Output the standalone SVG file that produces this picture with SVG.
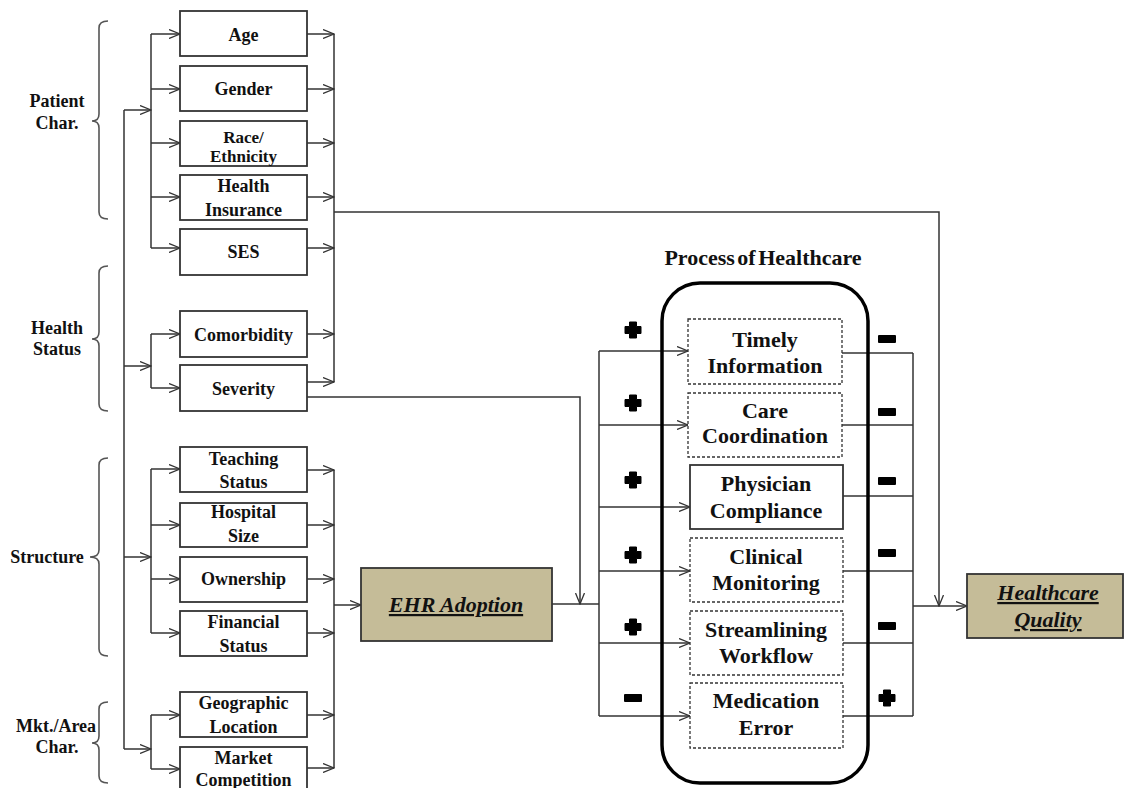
<svg xmlns="http://www.w3.org/2000/svg" width="1126" height="788" viewBox="0 0 1126 788">
<style>
.box{fill:#fff;stroke:#333;stroke-width:1.8}
.dbox{fill:#fff;stroke:#333;stroke-width:1.3;stroke-dasharray:3 2}
.tan{fill:#c5bc98;stroke:#333;stroke-width:1.8}
.t{font-family:"Liberation Serif","Times New Roman",serif;font-weight:bold;font-size:18px;fill:#111;text-anchor:middle}
.tp{font-family:"Liberation Serif","Times New Roman",serif;font-weight:bold;font-size:22px;fill:#111;text-anchor:middle}
.ti{font-family:"Liberation Serif","Times New Roman",serif;font-weight:bold;font-style:italic;font-size:22px;fill:#111;text-anchor:middle;text-decoration:underline}
.br{fill:none;stroke:#555;stroke-width:1.6}
.c{fill:none;stroke:#333;stroke-width:1.5}
.ca{fill:none;stroke:#333;stroke-width:1.5;marker-end:url(#arr)}
</style>
<defs>
<marker id="arr" viewBox="0 0 12 10" refX="11.5" refY="5" markerWidth="12" markerHeight="10" markerUnits="userSpaceOnUse" orient="auto">
<path d="M0.5,0.5 L11.5,5 L0.5,9.5" fill="none" stroke="#333" stroke-width="1.3"/>
</marker>
<path id="plus" d="M-3.5,-8 H3.5 V-3.5 H8 V3.5 H3.5 V8 H-3.5 V3.5 H-8 V-3.5 H-3.5 Z" fill="#000" stroke="#000" stroke-width="1" stroke-linejoin="round"/>
<rect id="minus" x="-9" y="-4" width="18" height="8" rx="1" fill="#000"/>
</defs>
<rect width="1126" height="788" fill="#fff"/>

<!-- Group labels and brackets -->
<g id="grp-patient">
<path class="br" d="M108,21 Q99,21 99,28 V114 Q99,121 92,121 Q99,121 99,128 V212 Q99,219 108,219"/>
<text class="t" x="57" y="107">Patient</text>
<text class="t" x="57" y="129">Char.</text>
</g>
<g id="grp-health">
<path class="br" d="M108,266 Q99,266 99,273 V332 Q99,339 92,339 Q99,339 99,346 V404 Q99,411 108,411"/>
<text class="t" x="57" y="334">Health</text>
<text class="t" x="57" y="355">Status</text>
</g>
<g id="grp-structure">
<path class="br" d="M108,458 Q99,458 99,465 V550 Q99,557 90,557 Q99,557 99,564 V649 Q99,656 108,656"/>
<text class="t" x="47" y="563">Structure</text>
</g>
<g id="grp-mkt">
<path class="br" d="M108,702 Q99,702 99,709 V736 Q99,743 92,743 Q99,743 99,750 V776 Q99,783 108,783"/>
<text class="t" x="56" y="732">Mkt./Area</text>
<text class="t" x="57" y="753">Char.</text>
</g>

<!-- Connectors -->
<g id="connectors">
<path class="c" d="M124,110 V749"/>
<path class="ca" d="M124,110 H151"/>
<path class="c" d="M151,34 V248"/>
<path class="ca" d="M151,34 H180"/>
<path class="ca" d="M151,89 H180"/>
<path class="ca" d="M151,143 H180"/>
<path class="ca" d="M151,197 H180"/>
<path class="ca" d="M151,248 H180"/>
<path class="ca" d="M124,366 H151"/>
<path class="c" d="M151,334 V388"/>
<path class="ca" d="M151,334 H180"/>
<path class="ca" d="M151,388 H180"/>
<path class="ca" d="M124,557 H151"/>
<path class="c" d="M151,469 V633"/>
<path class="ca" d="M151,469 H180"/>
<path class="ca" d="M151,525 H180"/>
<path class="ca" d="M151,579 H180"/>
<path class="ca" d="M151,633 H180"/>
<path class="ca" d="M124,749 H151"/>
<path class="c" d="M151,715 V769"/>
<path class="ca" d="M151,715 H180"/>
<path class="ca" d="M151,769 H180"/>

<path class="ca" d="M307,34 H334"/>
<path class="ca" d="M307,89 H334"/>
<path class="ca" d="M307,143 H334"/>
<path class="ca" d="M307,197 H334"/>
<path class="ca" d="M307,248 H334"/>
<path class="ca" d="M307,334 H334"/>
<path class="ca" d="M307,382 H334"/>
<path class="c" d="M334,34 V382"/>
<path class="ca" d="M334,212 H939 V606"/>
<path class="ca" d="M307,397 H580 V604"/>

<path class="ca" d="M307,470 H334"/>
<path class="ca" d="M307,525 H334"/>
<path class="ca" d="M307,579 H334"/>
<path class="ca" d="M307,633 H334"/>
<path class="ca" d="M307,715 H334"/>
<path class="ca" d="M307,768 H334"/>
<path class="c" d="M334,470 V768"/>
<path class="ca" d="M334,605 H361"/>

<path class="c" d="M552,604 H599"/>
<path class="c" d="M599,351 V716"/>
<path class="ca" d="M599,351 H688"/>
<path class="ca" d="M599,425 H688"/>
<path class="ca" d="M599,507 H690"/>
<path class="ca" d="M599,571 H690"/>
<path class="ca" d="M599,643 H690"/>
<path class="ca" d="M599,716 H690"/>

<path class="c" d="M842,353 H913"/>
<path class="c" d="M842,425 H913"/>
<path class="c" d="M843,496 H913"/>
<path class="c" d="M843,571 H913"/>
<path class="c" d="M843,643 H913"/>
<path class="c" d="M843,716 H913"/>
<path class="c" d="M913,353 V716"/>
<path class="ca" d="M913,606 H967"/>

<use href="#plus" x="633" y="330"/>
<use href="#plus" x="633" y="403"/>
<use href="#plus" x="633" y="480"/>
<use href="#plus" x="633" y="555"/>
<use href="#plus" x="633" y="627"/>
<use href="#minus" x="633" y="698"/>
<use href="#minus" x="887" y="339"/>
<use href="#minus" x="887" y="412"/>
<use href="#minus" x="887" y="481"/>
<use href="#minus" x="887" y="553"/>
<use href="#minus" x="887" y="626"/>
<use href="#plus" x="887" y="698"/>
</g>

<!-- Left nodes -->
<g id="n-age"><rect class="box" x="180" y="11" width="127" height="45"/><text class="t" x="243.5" y="41">Age</text></g>
<g id="n-gender"><rect class="box" x="180" y="66" width="127" height="45"/><text class="t" x="243.5" y="95">Gender</text></g>
<g id="n-race"><rect class="box" x="180" y="121" width="127" height="45"/><text class="t" x="243.5" y="143" style="font-size:17px">Race/</text><text class="t" x="243.5" y="162" style="font-size:17px">Ethnicity</text></g>
<g id="n-insurance"><rect class="box" x="180" y="175" width="127" height="45"/><text class="t" x="243.5" y="192">Health</text><text class="t" x="243.5" y="216">Insurance</text></g>
<g id="n-ses"><rect class="box" x="180" y="229" width="127" height="46"/><text class="t" x="243.5" y="258">SES</text></g>
<g id="n-comorbidity"><rect class="box" x="180" y="311" width="127" height="46"/><text class="t" x="243.5" y="341">Comorbidity</text></g>
<g id="n-severity"><rect class="box" x="180" y="365" width="127" height="46"/><text class="t" x="243.5" y="395">Severity</text></g>
<g id="n-teaching"><rect class="box" x="180" y="447" width="127" height="45"/><text class="t" x="243.5" y="465">Teaching</text><text class="t" x="243.5" y="488">Status</text></g>
<g id="n-size"><rect class="box" x="180" y="503" width="127" height="44"/><text class="t" x="243.5" y="518">Hospital</text><text class="t" x="243.5" y="542">Size</text></g>
<g id="n-ownership"><rect class="box" x="180" y="557" width="127" height="45"/><text class="t" x="243.5" y="585">Ownership</text></g>
<g id="n-financial"><rect class="box" x="180" y="611" width="127" height="45"/><text class="t" x="243.5" y="628">Financial</text><text class="t" x="243.5" y="652">Status</text></g>
<g id="n-geo"><rect class="box" x="180" y="692" width="127" height="45"/><text class="t" x="243.5" y="709">Geographic</text><text class="t" x="243.5" y="733">Location</text></g>
<g id="n-market"><rect class="box" x="180" y="747" width="127" height="50"/><text class="t" x="243.5" y="764">Market</text><text class="t" x="243.5" y="786">Competition</text></g>

<!-- EHR -->
<g id="n-ehr"><rect class="tan" x="361" y="568" width="191" height="73"/><text class="ti" x="456" y="612">EHR Adoption</text></g>

<!-- Process of Healthcare -->
<g id="n-process">
<text class="tp" x="763" y="265" word-spacing="-3">Process of Healthcare</text>
<rect x="662" y="283" width="206" height="500" rx="38" ry="38" fill="none" stroke="#000" stroke-width="3.5"/>
</g>
<g id="n-timely"><rect class="dbox" x="688" y="319" width="154" height="65"/><text class="tp" x="765" y="347">Timely</text><text class="tp" x="765" y="373">Information</text></g>
<g id="n-care"><rect class="dbox" x="688" y="393" width="154" height="64"/><text class="tp" x="765" y="418">Care</text><text class="tp" x="765" y="443">Coordination</text></g>
<g id="n-physician"><rect class="box" x="690" y="465" width="153" height="64"/><text class="tp" x="766" y="491">Physician</text><text class="tp" x="766" y="518">Compliance</text></g>
<g id="n-clinical"><rect class="dbox" x="690" y="538" width="153" height="64"/><text class="tp" x="766" y="564">Clinical</text><text class="tp" x="766" y="590">Monitoring</text></g>
<g id="n-workflow"><rect class="dbox" x="690" y="611" width="153" height="64"/><text class="tp" x="766" y="637">Streamlining</text><text class="tp" x="766" y="663">Workflow</text></g>
<g id="n-medication"><rect class="dbox" x="690" y="683" width="153" height="65"/><text class="tp" x="766" y="708">Medication</text><text class="tp" x="766" y="735">Error</text></g>

<!-- Healthcare Quality -->
<g id="n-quality"><rect class="tan" x="967" y="574" width="156" height="64"/><text class="ti" x="1048" y="600">Healthcare</text><text class="ti" x="1048" y="627">Quality</text></g>
</svg>
